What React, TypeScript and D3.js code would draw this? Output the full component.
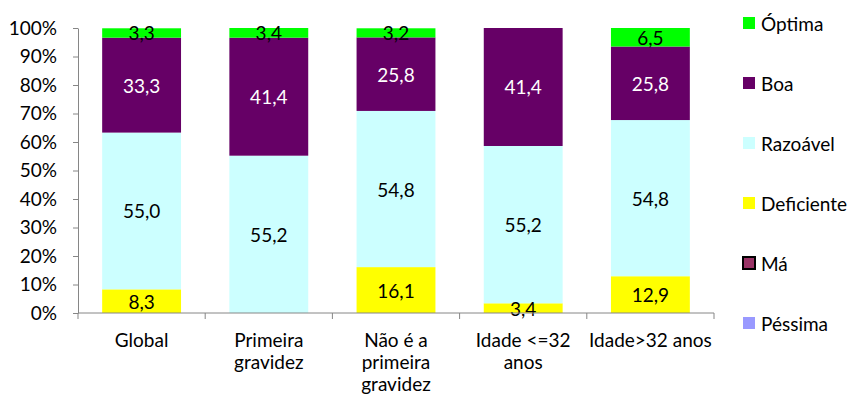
import React, { useEffect, useRef } from 'react';
import * as d3 from 'd3';

// categories (label lines) and series in stack order (bottom -> top)
const categories = ['Global', 'Primeira gravidez', 'Não é a primeira gravidez', 'Idade <=32 anos', 'Idade>32 anos'];
const categoryLines = [['Global'], ['Primeira', 'gravidez'], ['Não é a', 'primeira', 'gravidez'], ['Idade <=32', 'anos'], ['Idade>32 anos']];

const pessima = [0, 0, 0, 0, 0];
const ma = [0, 0, 0, 0, 0];
const deficiente = [8.3, 0, 16.1, 3.4, 12.9];
const razoavel = [55.0, 55.2, 54.8, 55.2, 54.8];
const boa = [33.3, 41.4, 25.8, 41.4, 25.8];
const optima = [3.3, 3.4, 3.2, 0, 6.5];

const yTicks = [0, 10, 20, 30, 40, 50, 60, 70, 80, 90, 100];

const series = [
  { name: 'Péssima', values: pessima, color: '#9999ff', text: '#000' },
  { name: 'Má', values: ma, color: '#993366', text: '#fff' },
  { name: 'Deficiente', values: deficiente, color: '#ffff00', text: '#000' },
  { name: 'Razoável', values: razoavel, color: '#ccffff', text: '#000' },
  { name: 'Boa', values: boa, color: '#660066', text: '#fff' },
  { name: 'Óptima', values: optima, color: '#00ff00', text: '#000' },
];

const FONT = 'Lato, "Open Sans", sans-serif';
const FS = 19;

export default function App() {
  const ref = useRef<SVGSVGElement>(null);

  useEffect(() => {
    const width = 853;
    const height = 401;
    const svg = d3.select(ref.current);
    svg.selectAll('*').remove();

    const x = d3.scaleBand().domain(categories).range([78, 714]).paddingInner(0.38).paddingOuter(0.19);
    const y = d3.scaleLinear().domain([0, 100]).range([313, 28]);

    const rows = categories.map((c, i) => {
      const r: any = { cat: c };
      series.forEach((s) => { r[s.name] = s.values[i]; });
      return r;
    });
    const stacked = d3.stack().keys(series.map((s) => s.name))(rows);

    // bars
    const layers = svg.append('g')
      .selectAll('g')
      .data(stacked)
      .join('g')
      .attr('fill', (d, i) => series[i].color);

    layers.selectAll('rect')
      .data((d) => d)
      .join('rect')
      .attr('x', (d: any) => x(d.data.cat)!)
      .attr('width', x.bandwidth())
      .attr('y', (d) => y(d[1]))
      .attr('height', (d) => Math.max(0, y(d[0]) - y(d[1])));

    // value labels
    stacked.forEach((layer, i) => {
      svg.append('g')
        .selectAll('text')
        .data(layer.filter((d) => d[1] - d[0] > 0))
        .join('text')
        .attr('x', (d: any) => x(d.data.cat)! + x.bandwidth() / 2)
        .attr('y', (d) => (y(d[0]) + y(d[1])) / 2)
        .attr('text-anchor', 'middle')
        .attr('dominant-baseline', 'central')
        .attr('font-family', FONT)
        .attr('font-size', FS)
        .attr('fill', series[i].text)
        .text((d) => (d[1] - d[0]).toFixed(1).replace('.', ','));
    });

    // y axis
    const yAxis = svg.append('g')
      .attr('transform', 'translate(78,0)')
      .call(d3.axisLeft(y).tickValues(yTicks).tickSize(5).tickSizeOuter(0).tickFormat((d) => `${d}%`));
    yAxis.select('.domain').attr('stroke', '#868686');
    yAxis.selectAll('.tick line').attr('stroke', '#868686');
    yAxis.selectAll('.tick text')
      .attr('x', -21)
      .attr('font-family', FONT)
      .attr('font-size', FS)
      .attr('fill', '#000');

    // x axis
    const xAxisG = svg.append('g');
    xAxisG.append('line')
      .attr('x1', 78).attr('x2', 714)
      .attr('y1', y(0)).attr('y2', y(0))
      .attr('stroke', '#868686');
    const step = x.step();
    xAxisG.selectAll('line.tk')
      .data(d3.range(categories.length + 1))
      .join('line')
      .attr('class', 'tk')
      .attr('x1', (i) => 78 + i * step)
      .attr('x2', (i) => 78 + i * step)
      .attr('y1', y(0))
      .attr('y2', y(0) + 6)
      .attr('stroke', '#868686');

    const lab = svg.append('g')
      .selectAll('text')
      .data(categories)
      .join('text')
      .attr('x', (c) => x(c)! + x.bandwidth() / 2)
      .attr('y', 347)
      .attr('text-anchor', 'middle')
      .attr('font-family', FONT)
      .attr('font-size', FS)
      .attr('fill', '#000');
    lab.selectAll('tspan')
      .data((c) => categoryLines[categories.indexOf(c as string)])
      .join('tspan')
      .attr('x', function () { return (this as any).parentNode.getAttribute('x'); })
      .attr('dy', (d, i) => (i === 0 ? 0 : 22))
      .text((d) => d);

    // legend (top -> bottom reversed series order)
    const legendItems = series.slice().reverse();
    const leg = svg.append('g')
      .selectAll('g')
      .data(legendItems)
      .join('g')
      .attr('transform', (d, i) => `translate(743,${23 + i * 60})`);
    leg.append('rect')
      .attr('x', 0)
      .attr('y', -6)
      .attr('width', 12)
      .attr('height', 12)
      .attr('fill', (d) => d.color)
      .attr('stroke', (d) => (d.name === 'Má' ? '#000' : 'none'))
      .attr('stroke-width', 2);
    leg.append('text')
      .attr('x', 18)
      .attr('y', 0)
      .attr('dominant-baseline', 'central')
      .attr('font-family', FONT)
      .attr('font-size', FS)
      .attr('fill', '#000')
      .text((d) => d.name);

    svg.attr('width', width).attr('height', height);
  }, []);

  return (
    <div style={{ position: 'absolute', left: 0, top: 0 }}>
      <svg ref={ref} width={853} height={401} style={{ display: 'block', background: '#fff' }} />
    </div>
  );
}
